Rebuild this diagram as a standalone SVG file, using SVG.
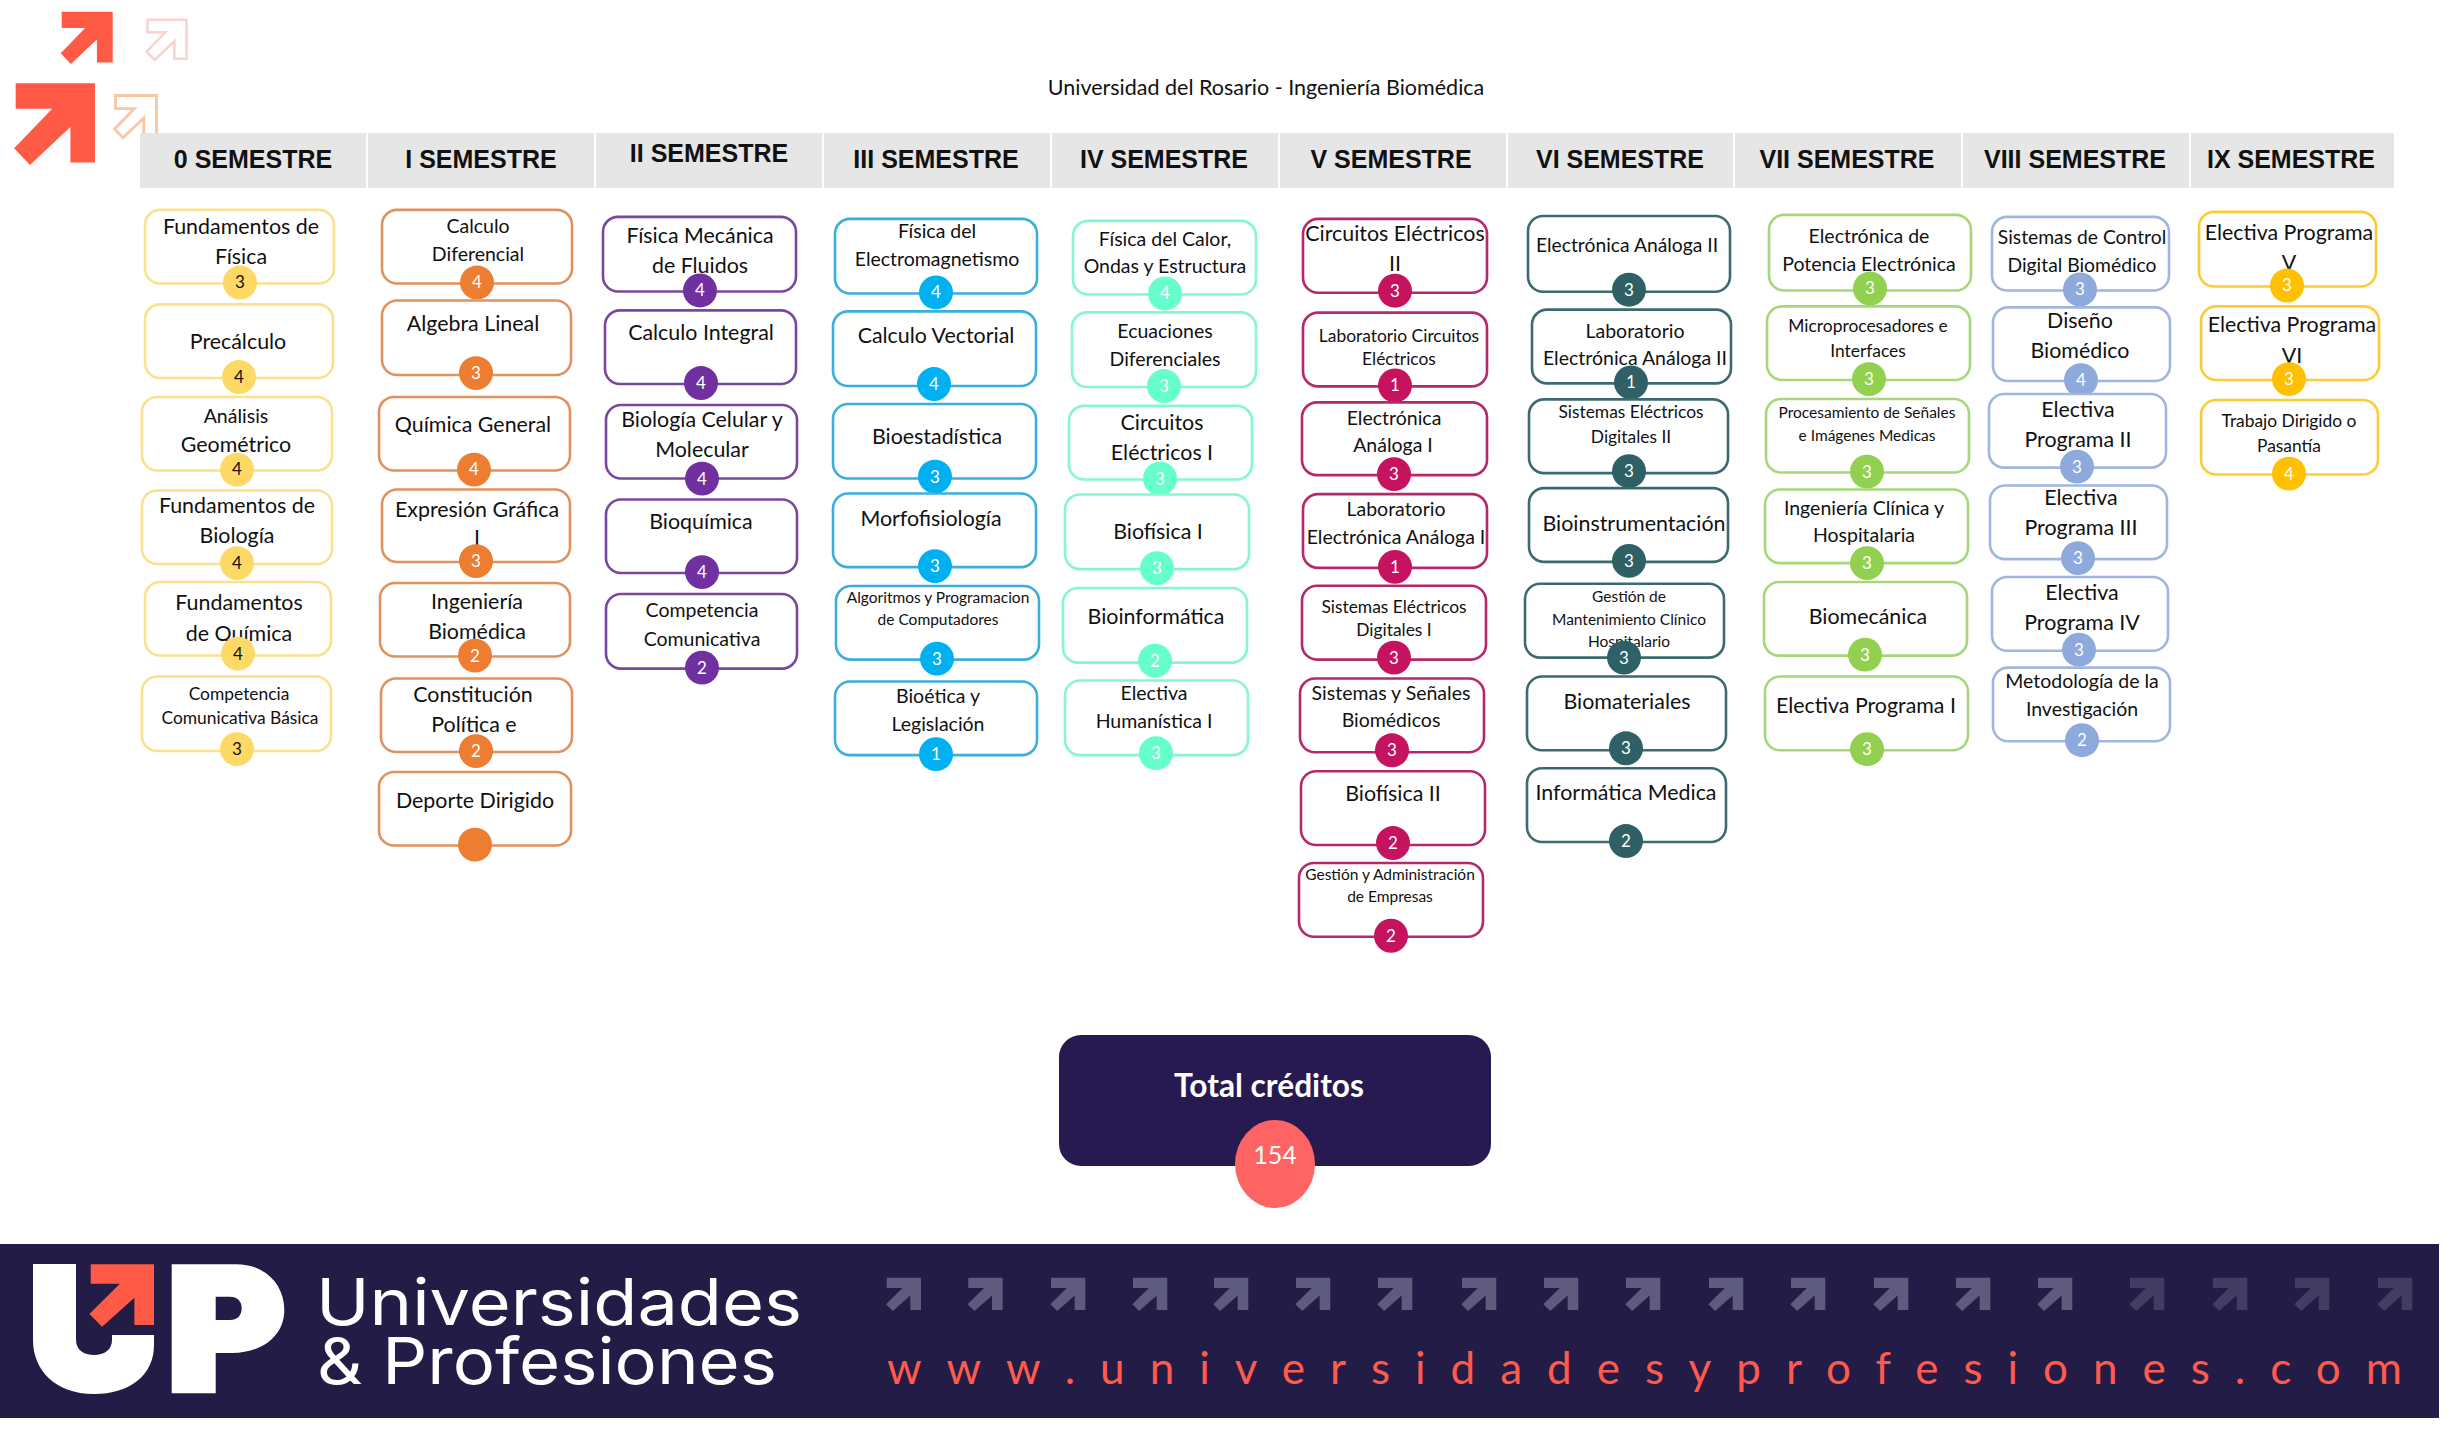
<svg xmlns="http://www.w3.org/2000/svg" xmlns:xlink="http://www.w3.org/1999/xlink" width="2454" height="1433" viewBox="0 0 2454 1433">
<style>
text{font-family:"Lato","Liberation Sans",sans-serif;fill:#111;text-anchor:middle}
.node rect{fill:#fff;stroke-width:2.6}
.node circle{stroke:none}
.d{font-size:17px;fill:#fff}
.l{font-size:21.4px}.m{font-size:19.5px}.s{font-size:19.3px}.x{font-size:17.4px}.xx{font-size:15.5px}
.h{font-family:"Liberation Sans",Arial,sans-serif;font-weight:700;font-size:25px;fill:#111}
.bar{fill:#E7E6E6}
.c0 rect{stroke:#FBE08E}.c0 circle{fill:#FFD966}.c0 .d{fill:#111}
.c1 rect{stroke:#E0925E}.c1 circle{fill:#ED7D31}
.c2 rect{stroke:#7A479E}.c2 circle{fill:#7030A0}
.c3 rect{stroke:#3AAEDC}.c3 circle{fill:#00B0F0}
.c4 rect{stroke:#85F5D3}.c4 circle{fill:#66FFCC}
.c5 rect{stroke:#B5286A}.c5 circle{fill:#C5135F}
.c6 rect{stroke:#3D6A70}.c6 circle{fill:#2F6065}
.c7 rect{stroke:#A6D87A}.c7 circle{fill:#92D050}
.c8 rect{stroke:#A0B6DE}.c8 circle{fill:#8EA9DB}
.c9 rect{stroke:#FFCB33}.c9 circle{fill:#FFC000}
.sa{fill:#5F5B7E}.sb{fill:#423D62}
</style>
<defs>
<polygon id="arw" points="0,0 100,0 100,100 69,100 69,55 18,103 -2,82 46,32 0,32"/>
</defs>
<rect width="2454" height="1433" fill="#fff"/>
<g id="corner-arrows">
<use xlink:href="#arw" href="#arw" transform="translate(61.7 11.7) scale(.51 .507)" fill="#FF5A45"/>
<use xlink:href="#arw" href="#arw" transform="translate(15.7 83.3) scale(.793 .793)" fill="#FF5A45"/>
<use xlink:href="#arw" href="#arw" transform="translate(147.5 19.7) scale(.39 .39)" fill="none" stroke="#FAD3CE" stroke-width="6.5"/>
<use xlink:href="#arw" href="#arw" transform="translate(115.5 95.5) scale(.41 .41)" fill="none" stroke="#FBC6A4" stroke-width="7"/>
</g>
<text x="1266" y="95" style="font-size:21.5px">Universidad del Rosario - Ingeniería Biomédica</text>
<g id="semester-headers">
<rect class="bar" x="140" y="133" width="226" height="55"/><rect class="bar" x="368" y="133" width="226" height="55"/><rect class="bar" x="596" y="133" width="226" height="55"/><rect class="bar" x="824" y="133" width="226" height="55"/><rect class="bar" x="1052" y="133" width="226" height="55"/><rect class="bar" x="1280" y="133" width="226" height="55"/><rect class="bar" x="1508" y="133" width="225" height="55"/><rect class="bar" x="1735" y="133" width="226" height="55"/><rect class="bar" x="1963" y="133" width="226" height="55"/><rect class="bar" x="2191" y="133" width="203" height="55"/>
<text class="h" x="253" y="168">0 SEMESTRE</text>
<text class="h" x="481" y="168">I SEMESTRE</text>
<text class="h" x="709" y="162">II SEMESTRE</text>
<text class="h" x="936" y="168">III SEMESTRE</text>
<text class="h" x="1164" y="168">IV SEMESTRE</text>
<text class="h" x="1391" y="168">V SEMESTRE</text>
<text class="h" x="1620" y="168">VI SEMESTRE</text>
<text class="h" x="1847" y="168">VII SEMESTRE</text>
<text class="h" x="2075" y="168">VIII SEMESTRE</text>
<text class="h" x="2291" y="168">IX SEMESTRE</text>
</g>

<g id="col0-1" transform="matrix(1 0 0 .9948 0 .988)">
<g id="s0-1" class="node c0"><rect x="145" y="210" width="189" height="74" rx="15"/><text class="l" x="241" y="234">Fundamentos de</text><text class="l" x="241" y="264">Física</text><circle cx="240" cy="283" r="17"/><text class="d" x="240" y="289">3</text></g>
<g id="s0-2" class="node c0"><rect x="145" y="305" width="188" height="74" rx="15"/><text class="l" x="238" y="350">Precálculo</text><circle cx="239" cy="378" r="17"/><text class="d" x="239" y="384">4</text></g>
<g id="s0-3" class="node c0"><rect x="142" y="398" width="190" height="74" rx="15"/><text class="m" x="236" y="424">Análisis</text><text class="l" x="236" y="453">Geométrico</text><circle cx="237" cy="471" r="17"/><text class="d" x="237" y="477">4</text></g>
<g id="s0-4" class="node c0"><rect x="142" y="492" width="190" height="74" rx="15"/><text class="l" x="237" y="515">Fundamentos de</text><text class="l" x="237" y="545">Biología</text><circle cx="237" cy="565" r="17"/><text class="d" x="237" y="571">4</text></g>
<g id="s0-5" class="node c0"><rect x="145" y="584" width="186" height="74" rx="15"/><text class="l" x="239" y="612">Fundamentos</text><text class="l" x="239" y="643">de Química</text><circle cx="238" cy="656" r="17"/><text class="d" x="238" y="662">4</text></g>
<g id="s0-6" class="node c0"><rect x="142" y="679" width="189" height="75" rx="15"/><text class="x" x="239" y="703">Competencia</text><text class="x" x="240" y="727">Comunicativa Básica</text><circle cx="237" cy="752" r="17"/><text class="d" x="237" y="758">3</text></g>
<g id="s1-1" class="node c1"><rect x="382" y="210" width="190" height="74" rx="15"/><text class="m" x="478" y="233">Calculo</text><text class="m" x="478" y="261">Diferencial</text><circle cx="477" cy="283" r="17"/><text class="d" x="477" y="289">4</text></g>
<g id="s1-2" class="node c1"><rect x="382" y="301" width="189" height="75" rx="15"/><text class="l" x="473" y="332">Algebra Lineal</text><circle cx="476" cy="374" r="17"/><text class="d" x="476" y="380">3</text></g>
<g id="s1-3" class="node c1"><rect x="379" y="398" width="191" height="74" rx="15"/><text class="l" x="473" y="433">Química General</text><circle cx="474" cy="471" r="17"/><text class="d" x="474" y="477">4</text></g>
<g id="s1-4" class="node c1"><rect x="382" y="491" width="188" height="73" rx="15"/><text class="l" x="477" y="519">Expresión Gráfica</text><text class="l" x="477" y="547">I</text><circle cx="476" cy="563" r="17"/><text class="d" x="476" y="569">3</text></g>
<g id="s1-5" class="node c1"><rect x="380" y="585" width="190" height="74" rx="15"/><text class="l" x="477" y="611">Ingeniería</text><text class="l" x="477" y="641">Biomédica</text><circle cx="475" cy="658" r="17"/><text class="d" x="475" y="664">2</text></g>
<g id="s1-6" class="node c1"><rect x="381" y="681" width="191" height="74" rx="15"/><text class="l" x="473" y="705">Constitución</text><text class="l" x="474" y="735">Política e</text><circle cx="476" cy="754" r="17"/><text class="d" x="476" y="760">2</text></g>
<g id="s1-7" class="node c1"><rect x="379" y="775" width="192" height="74" rx="15"/><text class="l" x="475" y="811">Deporte Dirigido</text><circle cx="475" cy="848" r="17"/></g>
</g>

<g id="col2-4" transform="matrix(1 0 0 .995 0 .95)">
<g id="s2-1" class="node c2"><rect x="603" y="217" width="193" height="75" rx="15"/><text class="l" x="700" y="243">Física Mecánica</text><text class="l" x="700" y="273">de Fluidos</text><circle cx="700" cy="291" r="17"/><text class="d" x="700" y="297">4</text></g>
<g id="s2-2" class="node c2"><rect x="605" y="311" width="191" height="74" rx="15"/><text class="l" x="701" y="341">Calculo Integral</text><circle cx="701" cy="384" r="17"/><text class="d" x="701" y="390">4</text></g>
<g id="s2-3" class="node c2"><rect x="606" y="406" width="191" height="74" rx="15"/><text class="l" x="702" y="428">Biología Celular y</text><text class="l" x="702" y="458">Molecular</text><circle cx="702" cy="480" r="17"/><text class="d" x="702" y="486">4</text></g>
<g id="s2-4" class="node c2"><rect x="606" y="501" width="191" height="74" rx="15"/><text class="l" x="701" y="531">Bioquímica</text><circle cx="702" cy="574" r="17"/><text class="d" x="702" y="580">4</text></g>
<g id="s2-5" class="node c2"><rect x="606" y="596" width="191" height="75" rx="15"/><text class="m" x="702" y="619">Competencia</text><text class="m" x="702" y="648">Comunicativa</text><circle cx="702" cy="670" r="17"/><text class="d" x="702" y="676">2</text></g>
<g id="s3-1" class="node c3"><rect x="835" y="219" width="202" height="75" rx="15"/><text class="m" x="937" y="238">Física del</text><text class="m" x="937" y="266">Electromagnetismo</text><circle cx="936" cy="293" r="17"/><text class="d" x="936" y="299">4</text></g>
<g id="s3-2" class="node c3"><rect x="833" y="312" width="203" height="75" rx="15"/><text class="l" x="936" y="344">Calculo Vectorial</text><circle cx="934" cy="385" r="17"/><text class="d" x="934" y="391">4</text></g>
<g id="s3-3" class="node c3"><rect x="833" y="405" width="203" height="75" rx="15"/><text class="l" x="937" y="445">Bioestadística</text><circle cx="935" cy="478" r="17"/><text class="d" x="935" y="484">3</text></g>
<g id="s3-4" class="node c3"><rect x="833" y="495" width="203" height="74" rx="15"/><text class="l" x="931" y="528">Morfofisiología</text><circle cx="935" cy="568" r="17"/><text class="d" x="935" y="574">3</text></g>
<g id="s3-5" class="node c3"><rect x="836" y="588" width="203" height="74" rx="15"/><text class="xx" x="938" y="605">Algoritmos y Programacion</text><text class="xx" x="938" y="627">de Computadores</text><circle cx="937" cy="661" r="17"/><text class="d" x="937" y="667">3</text></g>
<g id="s3-6" class="node c3"><rect x="835" y="684" width="202" height="74" rx="15"/><text class="m" x="938" y="706">Bioética y</text><text class="m" x="938" y="734">Legislación</text><circle cx="936" cy="757" r="17"/><text class="d" x="936" y="763">1</text></g>
<g id="s4-1" class="node c4"><rect x="1073" y="221" width="183" height="74" rx="15"/><text class="m" x="1165" y="246">Física del Calor,</text><text class="m" x="1165" y="273">Ondas y Estructura</text><circle cx="1165" cy="294" r="17"/><text class="d" x="1165" y="300">4</text></g>
<g id="s4-2" class="node c4"><rect x="1072" y="313" width="184" height="75" rx="15"/><text class="m" x="1165" y="339">Ecuaciones</text><text class="m" x="1165" y="367">Diferenciales</text><circle cx="1164" cy="387" r="17"/><text class="d" x="1164" y="393">3</text></g>
<g id="s4-3" class="node c4"><rect x="1069" y="407" width="183" height="74" rx="15"/><text class="l" x="1162" y="431">Circuitos</text><text class="l" x="1162" y="461">Eléctricos I</text><circle cx="1160" cy="480" r="17"/><text class="d" x="1160" y="486">3</text></g>
<g id="s4-4" class="node c4"><rect x="1065" y="496" width="184" height="75" rx="15"/><text class="l" x="1158" y="541">Biofísica I</text><circle cx="1157" cy="570" r="17"/><text class="d" x="1157" y="576">3</text></g>
<g id="s4-5" class="node c4"><rect x="1063" y="590" width="184" height="75" rx="15"/><text class="l" x="1156" y="626">Bioinformática</text><circle cx="1155" cy="663" r="17"/><text class="d" x="1155" y="669">2</text></g>
<g id="s4-6" class="node c4"><rect x="1065" y="683" width="183" height="75" rx="15"/><text class="m" x="1154" y="703">Electiva</text><text class="m" x="1154" y="731">Humanística I</text><circle cx="1156" cy="756" r="17"/><text class="d" x="1156" y="762">3</text></g>
</g>

<g id="col5-6" transform="matrix(1 0 0 .997 0 .57)">
<g id="s5-1" class="node c5"><rect x="1303" y="219" width="184" height="74" rx="15"/><text class="l" x="1395" y="241">Circuitos Eléctricos</text><text class="l" x="1395" y="271">II</text><circle cx="1395" cy="291" r="17"/><text class="d" x="1395" y="297">3</text></g>
<g id="s5-2" class="node c5"><rect x="1303" y="313" width="184" height="74" rx="15"/><text class="x" x="1399" y="342">Laboratorio Circuitos</text><text class="x" x="1399" y="366">Eléctricos</text><circle cx="1395" cy="386" r="17"/><text class="d" x="1395" y="392">1</text></g>
<g id="s5-3" class="node c5"><rect x="1302" y="403" width="185" height="73" rx="15"/><text class="m" x="1394" y="426">Electrónica</text><text class="m" x="1393" y="453">Análoga I</text><circle cx="1394" cy="475" r="17"/><text class="d" x="1394" y="481">3</text></g>
<g id="s5-4" class="node c5"><rect x="1303" y="495" width="184" height="74" rx="15"/><text class="m" x="1396" y="517">Laboratorio</text><text class="m" x="1396" y="545">Electrónica Análoga I</text><circle cx="1395" cy="568" r="17"/><text class="d" x="1395" y="574">1</text></g>
<g id="s5-5" class="node c5"><rect x="1302" y="587" width="184" height="74" rx="15"/><text class="x" x="1394" y="614">Sistemas Eléctricos</text><text class="x" x="1394" y="637">Digitales I</text><circle cx="1394" cy="659" r="17"/><text class="d" x="1394" y="665">3</text></g>
<g id="s5-6" class="node c5"><rect x="1300" y="680" width="184" height="74" rx="15"/><text class="m" x="1391" y="702">Sistemas y Señales</text><text class="m" x="1391" y="729">Biomédicos</text><circle cx="1392" cy="752" r="17"/><text class="d" x="1392" y="758">3</text></g>
<g id="s5-7" class="node c5"><rect x="1301" y="773" width="184" height="74" rx="15"/><text class="l" x="1393" y="803">Biofísica II</text><circle cx="1393" cy="845" r="17"/><text class="d" x="1393" y="851">2</text></g>
<g id="s5-8" class="node c5"><rect x="1299" y="865" width="184" height="74" rx="15"/><text class="xx" x="1390" y="882">Gestión y Administración</text><text class="xx" x="1390" y="904">de Empresas</text><circle cx="1391" cy="938" r="17"/><text class="d" x="1391" y="944">2</text></g>
<g id="s6-1" class="node c6"><rect x="1528" y="216" width="202" height="76" rx="15"/><text class="s" x="1627" y="252">Electrónica Análoga II</text><circle cx="1629" cy="290" r="17"/><text class="d" x="1629" y="296">3</text></g>
<g id="s6-2" class="node c6"><rect x="1532" y="310" width="199" height="74" rx="15"/><text class="m" x="1635" y="338">Laboratorio</text><text class="m" x="1635" y="366">Electrónica Análoga II</text><circle cx="1631" cy="383" r="17"/><text class="d" x="1631" y="389">1</text></g>
<g id="s6-3" class="node c6"><rect x="1529" y="400" width="199" height="74" rx="15"/><text class="x" x="1631" y="419">Sistemas Eléctricos</text><text class="x" x="1631" y="444">Digitales II</text><circle cx="1629" cy="472" r="17"/><text class="d" x="1629" y="478">3</text></g>
<g id="s6-4" class="node c6"><rect x="1529" y="489" width="199" height="74" rx="15"/><text class="l" x="1634" y="532">Bioinstrumentación</text><circle cx="1629" cy="562" r="17"/><text class="d" x="1629" y="568">3</text></g>
<g id="s6-5" class="node c6"><rect x="1525" y="585" width="199" height="74" rx="15"/><text class="xx" x="1629" y="603">Gestión de</text><text class="xx" x="1629" y="626">Mantenimiento Clínico</text><text class="xx" x="1629" y="648">Hospitalario</text><circle cx="1624" cy="659" r="17"/><text class="d" x="1624" y="665">3</text></g>
<g id="s6-6" class="node c6"><rect x="1527" y="678" width="199" height="74" rx="15"/><text class="l" x="1627" y="711">Biomateriales</text><circle cx="1626" cy="750" r="17"/><text class="d" x="1626" y="756">3</text></g>
<g id="s6-7" class="node c6"><rect x="1527" y="770" width="199" height="74" rx="15"/><text class="l" x="1626" y="802">Informática Medica</text><circle cx="1626" cy="843" r="17"/><text class="d" x="1626" y="849">2</text></g>
</g>

<g id="col7-9" transform="matrix(1 0 0 .995 0 .95)">
<g id="s7-1" class="node c7"><rect x="1769" y="215" width="202" height="76" rx="15"/><text class="m" x="1869" y="243">Electrónica de</text><text class="m" x="1869" y="271">Potencia Electrónica</text><circle cx="1870" cy="289" r="17"/><text class="d" x="1870" y="295">3</text></g>
<g id="s7-2" class="node c7"><rect x="1767" y="307" width="203" height="74" rx="15"/><text class="x" x="1868" y="333">Microprocesadores e</text><text class="x" x="1868" y="358">Interfaces</text><circle cx="1869" cy="380" r="17"/><text class="d" x="1869" y="386">3</text></g>
<g id="s7-3" class="node c7"><rect x="1766" y="400" width="203" height="74" rx="15"/><text class="xx" x="1867" y="419">Procesamiento de Señales</text><text class="xx" x="1867" y="442">e Imágenes Medicas</text><circle cx="1867" cy="473" r="17"/><text class="d" x="1867" y="479">3</text></g>
<g id="s7-4" class="node c7"><rect x="1765" y="491" width="203" height="74" rx="15"/><text class="m" x="1864" y="517">Ingeniería Clínica y</text><text class="m" x="1864" y="544">Hospitalaria</text><circle cx="1867" cy="565" r="17"/><text class="d" x="1867" y="571">3</text></g>
<g id="s7-5" class="node c7"><rect x="1764" y="584" width="203" height="74" rx="15"/><text class="l" x="1868" y="626">Biomecánica</text><circle cx="1865" cy="657" r="17"/><text class="d" x="1865" y="663">3</text></g>
<g id="s7-6" class="node c7"><rect x="1765" y="679" width="203" height="74" rx="15"/><text class="l" x="1866" y="716">Electiva Programa I</text><circle cx="1867" cy="752" r="17"/><text class="d" x="1867" y="758">3</text></g>
<g id="s8-1" class="node c8"><rect x="1992" y="217" width="177" height="74" rx="15"/><text class="s" x="2082" y="244">Sistemas de Control</text><text class="s" x="2082" y="272">Digital Biomédico</text><circle cx="2080" cy="290" r="17"/><text class="d" x="2080" y="296">3</text></g>
<g id="s8-2" class="node c8"><rect x="1993" y="308" width="177" height="74" rx="15"/><text class="l" x="2080" y="329">Diseño</text><text class="l" x="2080" y="359">Biomédico</text><circle cx="2081" cy="381" r="17"/><text class="d" x="2081" y="387">4</text></g>
<g id="s8-3" class="node c8"><rect x="1989" y="395" width="177" height="74" rx="15"/><text class="l" x="2078" y="418">Electiva</text><text class="l" x="2078" y="448">Programa II</text><circle cx="2077" cy="468" r="17"/><text class="d" x="2077" y="474">3</text></g>
<g id="s8-4" class="node c8"><rect x="1990" y="487" width="177" height="74" rx="15"/><text class="l" x="2081" y="507">Electiva</text><text class="l" x="2081" y="537">Programa III</text><circle cx="2078" cy="560" r="17"/><text class="d" x="2078" y="566">3</text></g>
<g id="s8-5" class="node c8"><rect x="1992" y="579" width="176" height="74" rx="15"/><text class="l" x="2082" y="602">Electiva</text><text class="l" x="2082" y="632">Programa IV</text><circle cx="2079" cy="652" r="17"/><text class="d" x="2079" y="658">3</text></g>
<g id="s8-6" class="node c8"><rect x="1993" y="670" width="177" height="74" rx="15"/><text class="m" x="2082" y="691">Metodología de la</text><text class="m" x="2082" y="719">Investigación</text><circle cx="2082" cy="743" r="17"/><text class="d" x="2082" y="749">2</text></g>
<g id="s9-1" class="node c9"><rect x="2199" y="212" width="177" height="75" rx="15"/><text class="l" x="2289" y="240">Electiva Programa</text><text class="l" x="2289" y="270">V</text><circle cx="2287" cy="286" r="17"/><text class="d" x="2287" y="292">3</text></g>
<g id="s9-2" class="node c9"><rect x="2201" y="307" width="178" height="74" rx="15"/><text class="l" x="2292" y="333">Electiva Programa</text><text class="l" x="2292" y="364">VI</text><circle cx="2289" cy="380" r="17"/><text class="d" x="2289" y="386">3</text></g>
<g id="s9-3" class="node c9"><rect x="2201" y="401" width="177" height="75" rx="15"/><text class="x" x="2289" y="428">Trabajo Dirigido o</text><text class="x" x="2289" y="453">Pasantía</text><circle cx="2289" cy="475" r="17"/><text class="d" x="2289" y="481">4</text></g>
</g>

<g id="total">
<rect x="1059" y="1035" width="432" height="131" rx="22" fill="#261A50"/>
<text x="1269" y="1097" style="font-size:31.7px;font-weight:700;fill:#fff">Total créditos</text>
<ellipse cx="1275" cy="1164" rx="40" ry="44" fill="#FF6464"/>
<text x="1275" y="1164" style="font-size:25px;fill:#fff">154</text>
</g>

<g id="footer">
<rect x="0" y="1244" width="2439" height="174" fill="#221C46"/>
<path d="M33 1264H76V1340C76 1350 84 1355 94 1355C104 1355 112 1350 112 1340V1335H154V1345C154 1375 130 1394 94 1394C55 1394 33 1370 33 1340Z" fill="#fff"/>
<path fill-rule="evenodd" d="M171.7 1264.3H236C266 1264.3 284.3 1285 284.3 1310C284.3 1336 262 1353 232 1353H215.7V1393.3H171.7ZM215.7 1296.7V1320H230C238 1320 241.7 1315 241.7 1308C241.7 1301 237 1296.7 230 1296.7Z" fill="#fff"/>
<use xlink:href="#arw" href="#arw" transform="translate(90.7 1264.3) scale(.633 .607)" fill="#FF5A45"/>
<text x="316" y="1324.5" textLength="486" lengthAdjust="spacingAndGlyphs" style="font-family:Inter,'Noto Sans',sans-serif;font-size:64px;font-weight:400;fill:#fff;text-anchor:start">Universidades</text>
<text x="317" y="1383.5" textLength="460" lengthAdjust="spacingAndGlyphs" style="font-family:Inter,'Noto Sans',sans-serif;font-size:64px;font-weight:400;fill:#fff;text-anchor:start">&amp; Profesiones</text>
<text x="887" y="1383.5" textLength="1515" lengthAdjust="spacing" style="font-size:44px;fill:#FF5A4D;text-anchor:start">www.universidadesyprofesiones.com</text>
<g id="footer-arrows">
<use xlink:href="#arw" href="#arw" class="sa" transform="translate(886.7 1277.7) scale(.343 .323)"/>
<use xlink:href="#arw" href="#arw" class="sa" transform="translate(968.3 1277.7) scale(.343 .323)"/>
<use xlink:href="#arw" href="#arw" class="sa" transform="translate(1051 1277.7) scale(.343 .323)"/>
<use xlink:href="#arw" href="#arw" class="sa" transform="translate(1133 1277.7) scale(.343 .323)"/>
<use xlink:href="#arw" href="#arw" class="sa" transform="translate(1214 1277.7) scale(.343 .323)"/>
<use xlink:href="#arw" href="#arw" class="sa" transform="translate(1296 1277.7) scale(.343 .323)"/>
<use xlink:href="#arw" href="#arw" class="sa" transform="translate(1378 1277.7) scale(.343 .323)"/>
<use xlink:href="#arw" href="#arw" class="sa" transform="translate(1462 1277.7) scale(.343 .323)"/>
<use xlink:href="#arw" href="#arw" class="sa" transform="translate(1544 1277.7) scale(.343 .323)"/>
<use xlink:href="#arw" href="#arw" class="sa" transform="translate(1626 1277.7) scale(.343 .323)"/>
<use xlink:href="#arw" href="#arw" class="sa" transform="translate(1709 1277.7) scale(.343 .323)"/>
<use xlink:href="#arw" href="#arw" class="sa" transform="translate(1791 1277.7) scale(.343 .323)"/>
<use xlink:href="#arw" href="#arw" class="sa" transform="translate(1874 1277.7) scale(.343 .323)"/>
<use xlink:href="#arw" href="#arw" class="sa" transform="translate(1956 1277.7) scale(.343 .323)"/>
<use xlink:href="#arw" href="#arw" class="sa" transform="translate(2038 1277.7) scale(.343 .323)"/>
<use xlink:href="#arw" href="#arw" class="sb" transform="translate(2130 1277.7) scale(.343 .323)"/>
<use xlink:href="#arw" href="#arw" class="sb" transform="translate(2213 1277.7) scale(.343 .323)"/>
<use xlink:href="#arw" href="#arw" class="sb" transform="translate(2295 1277.7) scale(.343 .323)"/>
<use xlink:href="#arw" href="#arw" class="sb" transform="translate(2378 1277.7) scale(.343 .323)"/>
</g>
</g>
</svg>
